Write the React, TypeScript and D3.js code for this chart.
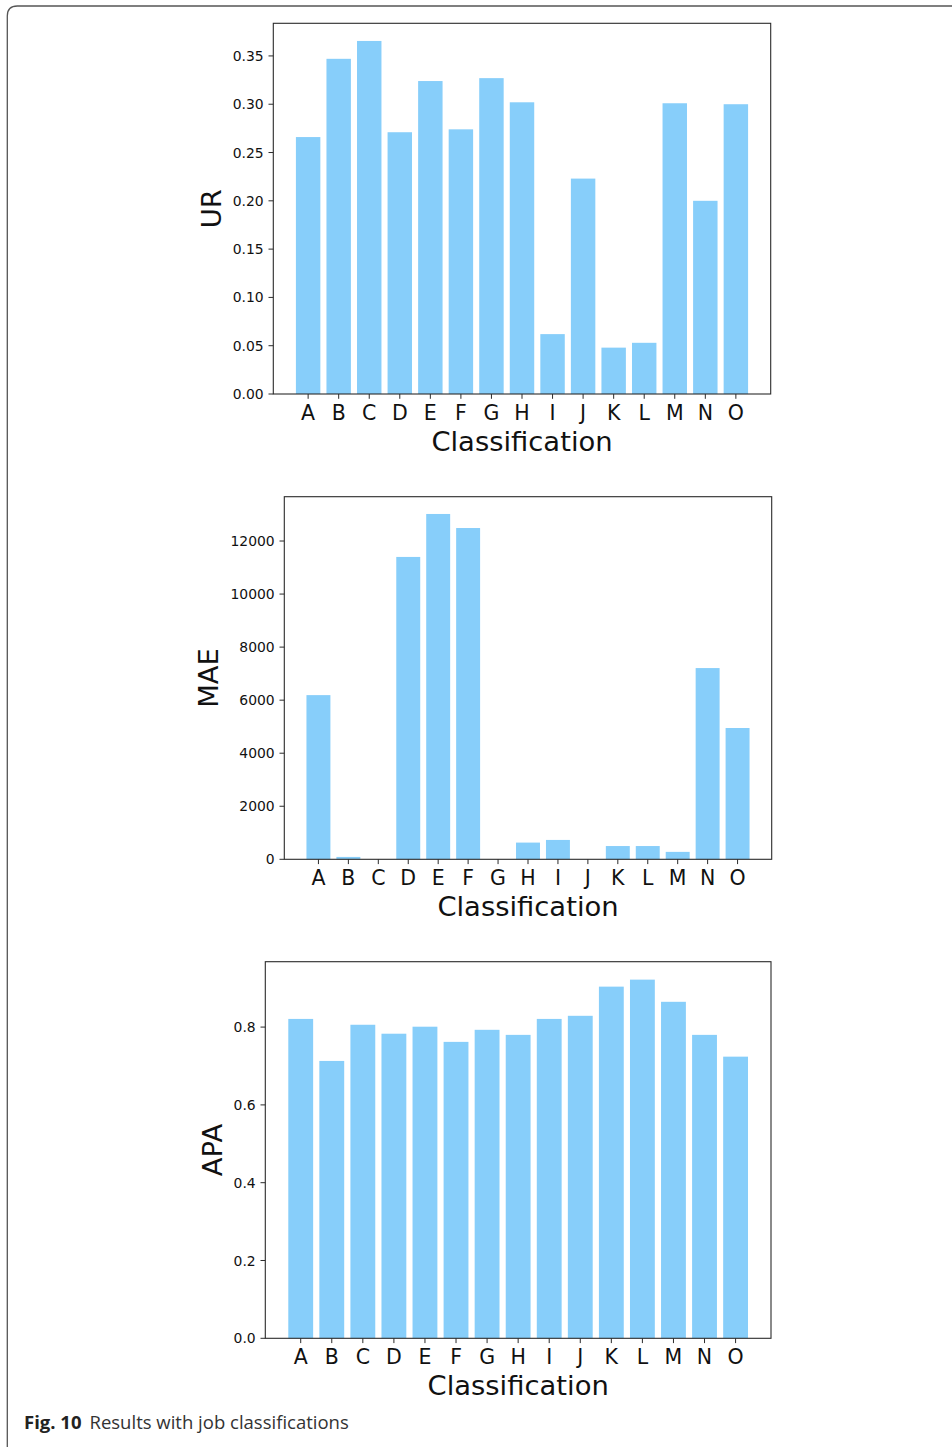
import React from "react";
import * as d3 from "d3";

const categories = ["A", "B", "C", "D", "E", "F", "G", "H", "I", "J", "K", "L", "M", "N", "O"];
const urValues = [0.266, 0.347, 0.3655, 0.271, 0.324, 0.274, 0.327, 0.302, 0.062, 0.223, 0.048, 0.053, 0.301, 0.200, 0.300];
const maeValues = [6190, 90, 0, 11400, 13020, 12490, 0, 630, 730, 0, 500, 500, 280, 7210, 4950];
const apaValues = [0.821, 0.713, 0.806, 0.783, 0.801, 0.762, 0.793, 0.780, 0.821, 0.829, 0.904, 0.922, 0.865, 0.780, 0.724];
const urTicks = [0, 0.05, 0.1, 0.15, 0.2, 0.25, 0.3, 0.35];
const maeTicks = [0, 2000, 4000, 6000, 8000, 10000, 12000];
const apaTicks = [0, 0.2, 0.4, 0.6, 0.8];
const xLabel = "Classification";
const captionBold = "Fig. 10";
const captionText = "Results with job classifications";

const BAR = "#87CEFA";
const AX = "#2b2b2b";
const FONT = "'DejaVu Sans', sans-serif";

type PanelProps = {
  values: number[];
  ticks: number[];
  fmt: (v: number) => string;
  label: string;
  left: number;
  right: number;
  top: number;
  bottom: number;
};

function charW(s: string, size: number) {
  let w = 0;
  for (const c of s) w += c === "." ? 0.318 : 0.636;
  return w * size;
}

function Panel({ values, ticks, fmt, label, left, right, top, bottom }: PanelProps) {
  const n = categories.length;
  const x = d3.scaleLinear().domain([-0.4 - 0.74, n - 1 + 0.4 + 0.74]).range([left, right]);
  const ymax = (d3.max(values) as number) * 1.05;
  const y = d3.scaleLinear().domain([0, ymax]).range([bottom, top]);
  const tickLen = 4.8;
  const pad = 4.8;
  const tickSize = 13.9;
  const xtSize = 20.5;
  const labSize = 27.4;
  const maxTW = d3.max(ticks.map((t) => charW(fmt(t), tickSize))) as number;
  const ylabX = left - tickLen - pad - maxTW - 5.5 - 6.5;
  return (
    <g>
      {values.map((v, i) => (
        <rect
          key={i}
          x={x(i - 0.4)}
          width={x(0.8) - x(0)}
          y={y(v)}
          height={Math.max(0, y(0) - y(v))}
          fill={BAR}
        />
      ))}
      <rect x={left} y={top} width={right - left} height={bottom - top} fill="none" stroke={AX} strokeWidth={1.1} />
      {ticks.map((t, i) => (
        <g key={i}>
          <line x1={left - tickLen} x2={left} y1={y(t)} y2={y(t)} stroke={AX} strokeWidth={1} />
          <text
            x={left - tickLen - pad}
            y={y(t)}
            dy="0.36em"
            textAnchor="end"
            fontFamily={FONT}
            fontSize={tickSize}
            fill="#111"
          >
            {fmt(t)}
          </text>
        </g>
      ))}
      {categories.map((c, i) => (
        <g key={c}>
          <line x1={x(i)} x2={x(i)} y1={bottom} y2={bottom + tickLen} stroke={AX} strokeWidth={1} />
          <text
            x={x(i)}
            y={bottom + tickLen + pad + xtSize * 0.8}
            textAnchor="middle"
            fontFamily={FONT}
            fontSize={xtSize}
            fill="#111"
          >
            {c}
          </text>
        </g>
      ))}
      <text
        x={(left + right) / 2}
        y={bottom + 56.5}
        textAnchor="middle"
        fontFamily={FONT}
        fontSize={labSize}
        fill="#111"
      >
        {xLabel}
      </text>
      <text
        transform={`translate(${ylabX},${(top + bottom) / 2}) rotate(-90)`}
        textAnchor="middle"
        fontFamily={FONT}
        fontSize={labSize}
        fill="#111"
      >
        {label}
      </text>
    </g>
  );
}

export default function App() {
  return (
    <svg
      width={952}
      height={1447}
      style={{ position: "absolute", left: 0, top: 0, background: "#fff" }}
    >
      <rect x={0} y={0} width={952} height={1447} fill="#fff" />
      <path
        d="M7.3,1460 L7.3,16 Q7.3,6 17.3,6 L960,6"
        fill="none"
        stroke="#555"
        strokeWidth={1.3}
      />
      <Panel
        values={urValues}
        ticks={urTicks}
        fmt={d3.format(".2f")}
        label="UR"
        left={273.3}
        right={770.7}
        top={23.3}
        bottom={394}
      />
      <Panel
        values={maeValues}
        ticks={maeTicks}
        fmt={d3.format("d")}
        label="MAE"
        left={284.3}
        right={771.7}
        top={496.7}
        bottom={859.3}
      />
      <Panel
        values={apaValues}
        ticks={apaTicks}
        fmt={d3.format(".1f")}
        label="APA"
        left={265.3}
        right={771}
        top={961.7}
        bottom={1338.3}
      />
      <text x={24} y={1428.5} fontFamily="'Open Sans', sans-serif" fontSize={18.5} fill="#333">
        <tspan fontWeight="bold" fill="#222">{captionBold}</tspan>
        <tspan dx={8}>{captionText}</tspan>
      </text>
    </svg>
  );
}
